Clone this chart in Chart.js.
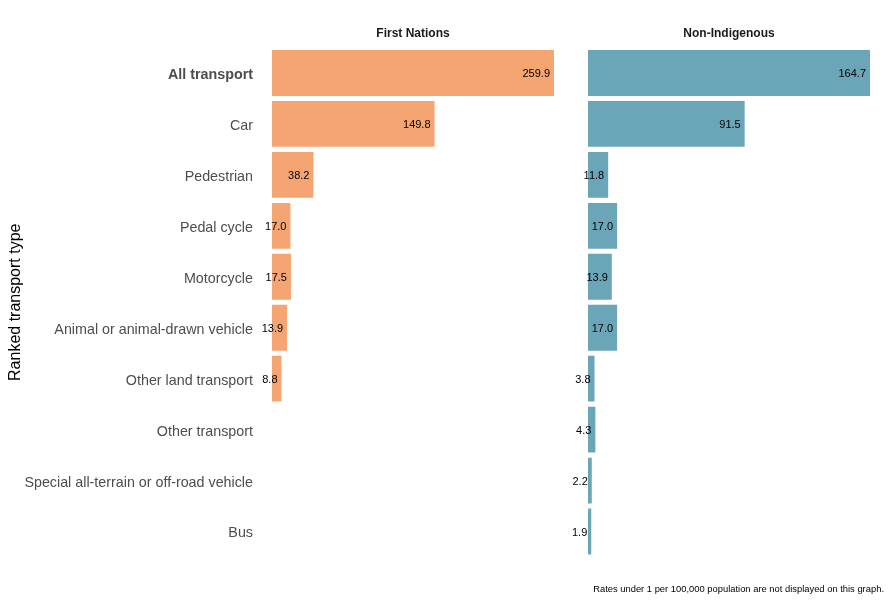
<!DOCTYPE html>
<html>
<head>
<meta charset="utf-8">
<script src="https://cdn.jsdelivr.net/npm/chart.js@4"></script>
<style>
    body { margin: 0; background: #fff; }
    #wrap { position: relative; width: 890px; height: 600px; }
    #fnBox { position: absolute; left: 0; top: 0; }
    #niBox { position: absolute; left: 560px; top: 0; }
    #note {
        position: absolute; right: 6px; top: 583px;
        font: 9.4px "Liberation Sans", Arial, sans-serif; color: #000;
    }
</style>
</head>
<body>
<div id="wrap">
    <div id="fnBox"><canvas id="fnChart" width="560" height="600"></canvas></div>
    <div id="niBox"><canvas id="niChart" width="330" height="600"></canvas></div>
    <div id="note">Rates under 1 per 100,000 population are not displayed on this graph.</div>
</div>
<script>
// ranked transport types, top to bottom
const transportTypes = [
    'All transport',
    'Car',
    'Pedestrian',
    'Pedal cycle',
    'Motorcycle',
    'Animal or animal-drawn vehicle',
    'Other land transport',
    'Other transport',
    'Special all-terrain or off-road vehicle',
    'Bus'
];

// rate per 100,000 (null = under 1, not shown)
const firstNationsRates = [259.9, 149.8, 38.2, 17.0, 17.5, 13.9, 8.8, null, null, null];
const nonIndigenousRates = [164.7, 91.5, 11.8, 17.0, 13.9, 17.0, 3.8, 4.3, 2.2, 1.9];

const panelTitles = ['First Nations', 'Non-Indigenous'];

const FONT = '"Liberation Sans", Arial, sans-serif';

// draws the value at the end of each bar
const valueLabels = {
    id: 'valueLabels',
    afterDatasetsDraw(chart) {
        const ctx = chart.ctx;
        ctx.save();
        ctx.font = '11px ' + FONT;
        ctx.fillStyle = '#000';
        ctx.textAlign = 'right';
        ctx.textBaseline = 'middle';
        chart.data.datasets.forEach((ds, i) => {
            chart.getDatasetMeta(i).data.forEach((bar, j) => {
                const v = ds.data[j];
                if (v === null || v === undefined) return;
                ctx.fillText(v.toFixed(1), bar.x - 4, bar.y + 1);
            });
        });
        ctx.restore();
    }
};

// facet strip title above the panel
const panelTitle = {
    id: 'panelTitle',
    afterDraw(chart, args, opts) {
        const ctx = chart.ctx;
        const area = chart.chartArea;
        ctx.save();
        ctx.font = 'bold 12px ' + FONT;
        ctx.fillStyle = '#1a1a1a';
        ctx.textAlign = 'center';
        ctx.textBaseline = 'middle';
        ctx.fillText(opts.text, (area.left + area.right) / 2, 34);
        ctx.restore();
    }
};

function makePanel(canvasId, rates, color, title, showY, padding) {
    const ctx = document.getElementById(canvasId).getContext('2d');
    return new Chart(ctx, {
        type: 'bar',
        data: {
            labels: transportTypes,
            datasets: [{
                data: rates,
                backgroundColor: color,
                borderWidth: 0,
                barPercentage: 0.9,
                categoryPercentage: 1.0
            }]
        },
        options: {
            indexAxis: 'y',
            responsive: false,
            animation: false,
            layout: { padding: padding },
            plugins: {
                legend: { display: false },
                tooltip: { enabled: false },
                panelTitle: { text: title }
            },
            scales: {
                x: {
                    display: false,
                    min: 0,
                    max: Math.max(...rates.filter(v => v !== null))
                },
                y: {
                    display: showY,
                    grid: { display: false, drawTicks: false },
                    border: { display: false },
                    ticks: {
                        padding: 19,
                        labelOffset: 2,
                        color: '#4d4d4d',
                        font: c => ({
                            family: FONT,
                            size: 14.3,
                            weight: c.index === 0 ? 'bold' : 'normal'
                        })
                    },
                    title: {
                        display: showY,
                        text: 'Ranked transport type',
                        color: '#000',
                        font: { family: FONT, size: 16 },
                        padding: { top: 6 }
                    },
                    afterFit: scale => { if (showY) scale.width = 272; }
                }
            }
        },
        plugins: [valueLabels, panelTitle]
    });
}

makePanel('fnChart', firstNationsRates, '#f5a572', panelTitles[0], true,
    { top: 47.5, bottom: 43, left: 0, right: 6 });
makePanel('niChart', nonIndigenousRates, '#6ba5b8', panelTitles[1], false,
    { top: 47.5, bottom: 43, left: 28, right: 20 });
</script>
</body>
</html>
